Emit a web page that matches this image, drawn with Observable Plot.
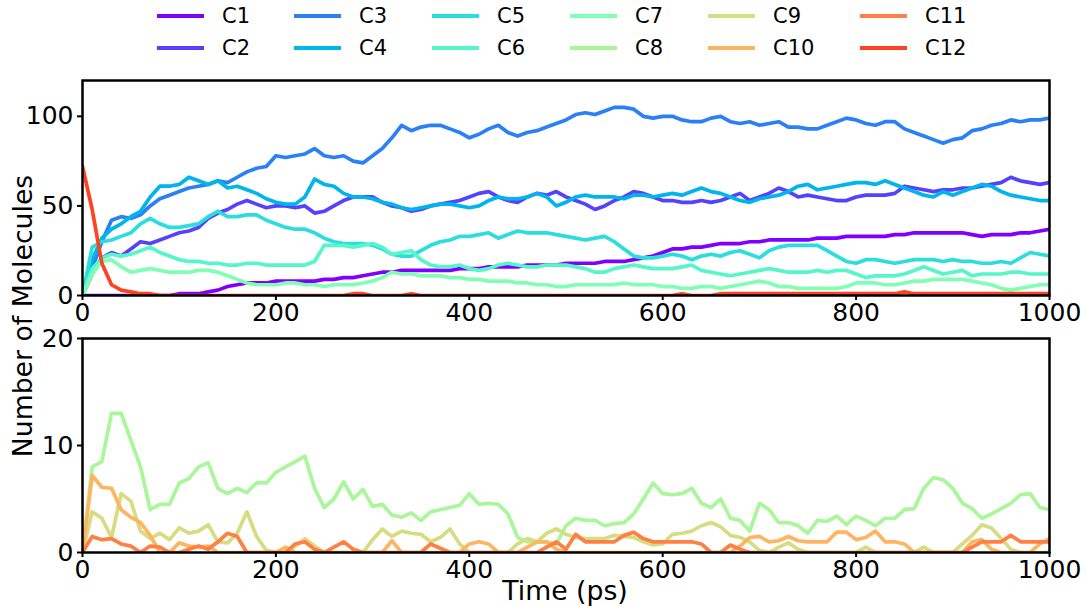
<!DOCTYPE html>
<html><head><meta charset="utf-8">
<script src="https://cdn.jsdelivr.net/npm/d3@7"></script>
<script src="https://cdn.jsdelivr.net/npm/@observablehq/plot@0.6"></script>
<style>
body{margin:0;background:#fff;font-family:"DejaVu Sans",sans-serif;}
#wrap{position:relative;width:1086px;height:606px;overflow:hidden;background:#fff;}
#wrap svg{position:absolute;left:0;}
.sw{position:absolute;width:47px;height:4px;}
.lt{position:absolute;font-size:21px;line-height:24px;color:#000;white-space:nowrap;}
</style></head><body><div id="wrap"></div>
<script>
// ---- data ----
const names = ["C1","C2","C3","C4","C5","C6","C7","C8","C9","C10","C11","C12"];
const colors = ["#8000ff","#5542fd","#2b80f6","#00b4ec","#2bdddd","#55f6ca","#80ffb4","#aaf69b","#d5dd80","#ffb462","#ff8042","#ff4221"];
const times = d3.range(0, 1001, 10);
const xTicks = [0, 200, 400, 600, 800, 1000];
const yTicksTop = [0, 50, 100];
const yTicksBottom = [0, 10, 20];
const topSeries = ["C1","C2","C3","C4","C5","C6","C7","C12"];
const bottomSeries = ["C8","C9","C10","C11"];

const C1 = [0,0,0,0,0,0,0,0,0,0,1, 1,1,2,3,5,6,7,7,7,8, 8,8,8,8,9,9,10,10,11,12, 13,13,14,14,14,14,14,14,15,15,
  15,16,16,16,16,17,17,17,17,18, 18,18,18,19,19,19,20,21,22,24, 26,26,27,27,28,29,29,29,30,30,
  31,31,31,31,31,32,32,32,33,33, 33,33,33,34,34,35,35,35,35,35, 35,34,33,34,34,34,35,35,36,37];
const C2 = [0,12,21,24,22,26,30,29,31,33,35, 36,38,43,46,48,51,53,51,49,50, 50,49,50,46,47,50,53,55,55,55,
  52,50,49,47,48,50,51,52,53,55, 57,58,55,53,52,55,57,56,58,55, 53,51,48,50,53,55,58,57,55,53,
  53,52,52,53,52,53,55,57,53,55, 57,60,58,55,56,55,54,53,53,55, 56,56,56,57,61,60,59,58,59,59,
  60,60,61,62,63,66,64,63,62,63];
const C3 = [0,15,30,42,44,43,45,50,54,56,58, 60,61,62,64,63,66,69,71,72,78, 77,78,79,82,78,77,78,75,74,78,
  82,88,95,92,94,95,95,93,91,88, 90,93,95,91,89,91,92,94,96,98, 101,102,101,103,105,105,104,100,99,100,
  100,98,97,97,99,100,97,96,97,95, 96,97,94,94,93,93,95,97,99,98, 96,95,97,97,93,91,89,87,85,87,
  88,92,93,95,96,98,97,98,98,99];
const C4 = [0,20,32,37,40,44,47,55,61,61,62, 66,64,62,64,60,61,59,57,54,52, 51,51,55,65,62,61,57,55,55,54,
  52,51,49,48,49,50,51,51,50,49, 50,53,55,54,54,55,57,55,50,52, 55,56,55,55,55,54,56,56,55,56,
  57,56,58,60,58,57,55,53,52,54, 55,56,58,61,62,59,60,61,62,63, 63,62,64,62,60,58,56,55,58,56,
  58,60,62,61,58,56,55,54,53,53];
const C5 = [0,27,30,31,33,35,40,43,40,38,38, 39,40,44,47,44,44,45,45,42,40, 38,37,37,35,32,30,29,29,29,28,
  26,23,22,22,25,28,30,31,33,33, 34,35,32,34,36,35,35,35,34,33, 32,31,32,33,30,26,22,21,21,22,
  23,22,20,22,23,22,24,25,23,21, 25,27,28,28,28,28,25,22,19,18, 20,20,19,18,19,20,20,20,19,20,
  19,19,18,18,19,18,21,24,23,22];
const C6 = [0,15,21,23,22,23,25,27,24,22,20, 19,19,18,18,17,17,18,18,17,17, 17,17,17,19,28,28,28,27,28,29,
  27,23,24,25,20,17,16,16,17,15, 14,15,17,18,17,16,16,17,17,17, 16,15,13,13,15,16,17,16,15,15,
  15,16,17,14,13,12,11,12,13,14, 15,14,13,13,13,14,13,14,14,12, 10,11,11,11,12,14,16,14,12,13,
  14,11,12,12,12,13,13,12,12,12];
const C7 = [0,12,19,20,16,13,14,15,14,13,13, 13,14,14,13,11,9,7,6,6,6, 7,7,6,6,5,6,6,6,7,8,
  10,13,12,12,11,11,11,10,10,9, 9,8,8,8,7,7,6,6,5,5, 6,6,6,6,6,7,6,6,6,5,
  5,4,4,5,5,4,5,6,7,8, 7,5,5,4,4,4,4,4,5,7, 7,7,6,6,7,8,8,9,9,9,
  9,8,7,6,4,3,4,5,6,6];
const C8 = [0,8,8.5,13,13,10.5,8,4,4.5,4.5,6.5, 6.9,8,8.4,6,5.5,6,5.6,6.5,6.5,7.5, 8,8.5,9,6,4.2,5,6.6,5,5.9,4.3,
  4.5,3.5,3.3,3.7,3,3.8,4,4.2,4.4,5.5, 4.5,4.6,4.5,3.6,1.4,1,1,1,0.8,2.5, 3.2,3,3,2.5,2.7,2.8,3.6,5,6.5,5.5,
  5.4,5.5,6,4.6,4.2,5,3.2,3,2,4.6, 4,2.8,2.8,2.5,1.8,3,2.9,3.4,2.6,3.4, 3,2.5,3.2,3.2,4,4.1,6,7,6.8,6,
  4.6,4.1,3.2,3.6,4.1,4.6,5.4,5.5,4.2,4];
const C9 = [0,3.8,3.2,1.4,5.5,4.8,2,1.3,1.8,1.2,2.3, 1.8,2,2.6,1,0.9,1.8,3.8,1.5,0.2,0, 0,0.6,1.3,0.6,0,0,0,0,0,1.2,
  2.2,1.5,2,1.8,1.7,1,1.4,2.2,0.8,0, 0,0,0,0,0.8,1.3,1,1.8,2.2,1.7, 1.4,1.3,1.3,1.3,1.6,1.5,1.4,1,0.7,0.8,
  1.7,1.8,2,2.5,2.8,2.4,1.6,1.4,1,0.2, 0,0.5,0.9,0.3,0,0,0,0,0,0, 0.5,0,0,0,0,0,0.5,0,0,0,
  0.8,1.6,2.6,2.3,1.3,0.3,0,0,0,0];
const C10 = [0,7.2,6.1,6,4,3.3,2.8,1.6,0,0,0.9, 0.6,0.5,0.6,0,0,0,0,0,0,0, 0.5,0,0,0,0,0,0,0,0,0,
  0,1.1,0,0,0,0,0,0,0,0.8, 1,0.8,0,0,0,0.5,1,1,0.3,0, 0,0,0,0,0,0,0,0,0,0,
  0,0,0,0,0,0,0,0.6,1.4,1.5, 1,1.1,1.5,1.1,1,1,1,1.9,1.9,1.2, 1.4,2,1,1,0.8,0,0,0,0,0,
  0,1,1.2,0.3,0,0,0,0,0.8,1.3];
const C11 = [0,1.5,1.2,1.3,0.8,0.6,0,0.6,0.5,0,0, 0.3,0.6,0.3,1,1.8,1.5,0,0,0,0, 0,0.8,1,0.3,0,0.5,1,0.3,0,0,
  0,0,0,0,0,0.8,0.4,0,0,0, 0,0,0,0,0,0,0,0.5,1,0.3, 1.7,1,1,1,1,1.6,1.9,1.3,1,1,
  1,1,1,0.8,0,0,0.7,0.3,0,0, 0,0,0,0,0,0,0,0,0,0, 0,0,0,0,0,0,0,0,0,0,
  0,0.5,1,1,1,1.6,1,1,1,1];
const C12 = [72,48,18,6,3,2,1,1,0,0,0, 0,0,0,0,0,0,0,0,0,0, 0,0,0,0,0,0,0,1,1,0,
  0,0,0,1,0,0,0,0,0,0, 0,0,0,0,0,0,0,0,0,0, 0,0,0,0,0,0,0,0,0,0,
  0,1,0,0,0,1,1,1,1,1, 1,1,1,1,1,1,1,1,1,1, 1,1,1,1,2,1,1,1,1,1,
  1,1,1,1,1,1,1,1,1,1];
const values = {C1,C2,C3,C4,C5,C6,C7,C8,C9,C10,C11,C12};

function rows(list){
  const out = [];
  for (const s of list) values[s].forEach((v,i) => out.push({t: times[i], v, s}));
  return out;
}

const wrap = document.getElementById("wrap");
const common = {
  width: 1086, marginLeft: 82, marginRight: 37,
  x: {domain: [0, 1000]},
  color: {type: "ordinal", domain: names, range: colors},
  style: {fontFamily: "DejaVu Sans", fontSize: "25px", color: "black", background: "transparent", overflow: "visible"}
};
const fmt = d3.format("d");

const topPlot = Plot.plot({
  ...common, height: 330, marginTop: 80, marginBottom: 35,
  y: {domain: [0, 120]},
  marks: [
    Plot.line(rows(topSeries), {x: "t", y: "v", z: "s", stroke: "s", strokeWidth: 3.7, clip: true}),
    Plot.frame({stroke: "black", strokeWidth: 2.5}),
    Plot.axisX({ticks: xTicks, tickSize: 5, tickPadding: 3, strokeWidth: 2, label: null, tickFormat: fmt}),
    Plot.axisY({ticks: yTicksTop, tickSize: 5, tickPadding: 4, strokeWidth: 2, label: null, tickFormat: fmt})
  ]
});
topPlot.style.top = "0px";
wrap.appendChild(topPlot);

const bottomPlot = Plot.plot({
  ...common, height: 276, marginTop: 8, marginBottom: 54,
  y: {domain: [0, 20]},
  marks: [
    Plot.line(rows(bottomSeries), {x: "t", y: "v", z: "s", stroke: "s", strokeWidth: 3.7, clip: true}),
    Plot.frame({stroke: "black", strokeWidth: 2.5}),
    Plot.axisX({ticks: xTicks, tickSize: 5, tickPadding: 3, strokeWidth: 2, label: null, tickFormat: fmt}),
    Plot.axisY({ticks: yTicksBottom, tickSize: 5, tickPadding: 4, strokeWidth: 2, label: null, tickFormat: fmt})
  ]
});
bottomPlot.style.top = "330px";
wrap.appendChild(bottomPlot);

// axis labels
const ns = "http://www.w3.org/2000/svg";
const lab = document.createElementNS(ns, "svg");
lab.setAttribute("width", 1086); lab.setAttribute("height", 606);
lab.style.top = "0px"; lab.style.pointerEvents = "none";
lab.innerHTML = `<text x="565" y="600" text-anchor="middle" font-family="DejaVu Sans" font-size="26.7" fill="black">Time (ps)</text>
<text transform="translate(32,316) rotate(-90)" text-anchor="middle" font-family="DejaVu Sans" font-size="26.7" fill="black">Number of Molecules</text>`;
wrap.appendChild(lab);

// legend (column-major, 2 rows x 6 columns)
const colX = [157, 294, 432, 570, 708, 860];
const rowY = [16, 48];
names.forEach((n, i) => {
  const c = Math.floor(i / 2), r = i % 2;
  const sw = document.createElement("div");
  sw.className = "sw"; sw.style.left = colX[c] + "px"; sw.style.top = (rowY[r] - 2) + "px";
  sw.style.background = colors[i];
  const t = document.createElement("div");
  t.className = "lt"; t.style.left = (colX[c] + 65) + "px"; t.style.top = (rowY[r] - 12) + "px";
  t.textContent = n;
  wrap.appendChild(sw); wrap.appendChild(t);
});
</script></body></html>
